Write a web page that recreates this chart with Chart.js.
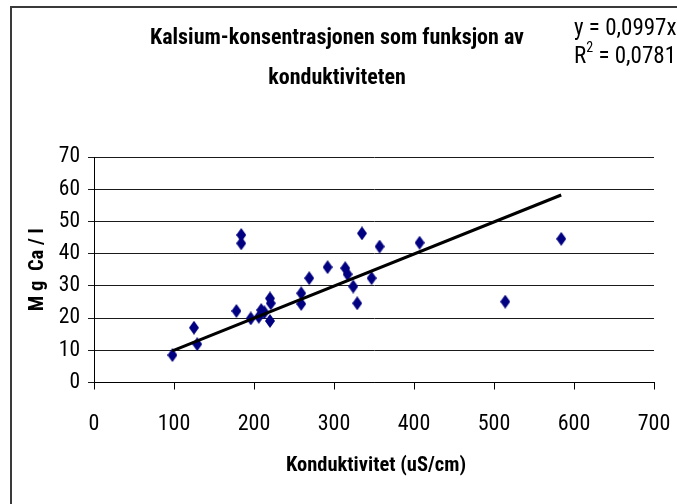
<!DOCTYPE html>
<html>
<head>
<meta charset="utf-8">
<script src="https://cdn.jsdelivr.net/npm/chart.js@4/dist/chart.umd.min.js"></script>
<style>
  html, body { margin: 0; padding: 0; background: #fff; overflow: hidden; }
  #wrap { position: relative; width: 677px; height: 504px; overflow: hidden; }
  #frame { position: absolute; left: 10px; top: 6px; width: 720px; height: 540px; border: 2px solid #3a3a3a; }
  #chart { position: absolute; left: 0; top: 0; }
</style>
</head>
<body>
<div id="wrap">
  <div id="frame"></div>
  <canvas id="chart" width="677" height="504"></canvas>
</div>
<script>
const kondX = [98, 125, 129, 178, 184, 184, 196, 206, 209, 213, 220, 221, 220, 259, 259, 269, 292, 314, 317, 324, 329, 335, 347, 357, 407, 514, 584];
const caY = [8.5, 17.0, 11.9, 22.2, 45.8, 43.2, 19.9, 20.4, 22.5, 21.8, 26.1, 24.6, 19.1, 27.7, 24.4, 32.4, 35.8, 35.5, 33.6, 29.8, 24.6, 46.3, 32.4, 42.2, 43.4, 25.1, 44.6];
const trendX = [98, 584];
const trendY = [9.8, 58.2];
const xTicks = [0, 100, 200, 300, 400, 500, 600, 700];
const yTicks = [0, 10, 20, 30, 40, 50, 60, 70];
const titleLines = ["Kalsium-konsentrasjonen som funksjon av", "konduktiviteten"];
const xTitle = "Konduktivitet (uS/cm)";
const yTitle = "M g  Ca / l";
const eqLine = "y = 0,0997x";
const r2Value = " = 0,0781";

const FONT = "'Roboto Condensed', 'Liberation Sans Narrow', 'Arial Narrow', sans-serif";

// diamond marker, a bit taller than wide like the original
function diamond() {
  const c = document.createElement("canvas");
  c.width = 10; c.height = 14;
  const g = c.getContext("2d");
  g.fillStyle = "#000080";
  g.beginPath();
  g.moveTo(5, 0); g.lineTo(10, 7); g.lineTo(5, 14); g.lineTo(0, 7);
  g.closePath();
  g.fill();
  return c;
}

const textPlugin = {
  id: "texts",
  afterDraw(chart) {
    const ctx = chart.ctx;
    ctx.save();
    ctx.fillStyle = "#000";
    ctx.textBaseline = "middle";
    ctx.textAlign = "center";
    ctx.font = "bold 22px " + FONT;
    ctx.fillText(titleLines[0], 337, 38);
    ctx.fillText(titleLines[1], 337, 78);

    ctx.font = "bold 20.5px " + FONT;
    const a = chart.chartArea;
    ctx.fillText(xTitle, (a.left + a.right) / 2 + 2, 466);
    ctx.translate(38, (a.top + a.bottom) / 2);
    ctx.rotate(-Math.PI / 2);
    ctx.fillText(yTitle, 0, 0);
    ctx.setTransform(1, 0, 0, 1, 0, 0);

    ctx.textAlign = "left";
    ctx.textBaseline = "alphabetic";
    ctx.font = "23px " + FONT;
    ctx.fillText(eqLine, 574, 35);
    ctx.fillText("R", 574, 63);
    let w = ctx.measureText("R").width;
    ctx.font = "14px " + FONT;
    ctx.fillText("2", 574 + w, 52);
    w += ctx.measureText("2").width;
    ctx.font = "23px " + FONT;
    ctx.fillText(r2Value, 574 + w, 63);
    ctx.restore();
  }
};

const ctx = document.getElementById("chart").getContext("2d");
new Chart(ctx, {
  type: "scatter",
  data: {
    datasets: [
      {
        label: "trend",
        type: "line",
        data: trendX.map((x, i) => ({ x: x, y: trendY[i] })),
        borderColor: "#000",
        borderWidth: 3,
        pointRadius: 0,
        fill: false,
        order: 0
      },
      {
        label: "Ca",
        data: kondX.map((x, i) => ({ x: x, y: caY[i] })),
        pointStyle: diamond(),
        pointRadius: 7,
        order: 1
      }
    ]
  },
  options: {
    responsive: false,
    animation: false,
    devicePixelRatio: 1,
    layout: { padding: { top: 157, right: 23, left: 0, bottom: 0 } },
    plugins: { legend: { display: false }, tooltip: { enabled: false }, title: { display: false } },
    scales: {
      x: {
        type: "linear",
        min: 0, max: 700,
        afterBuildTicks: s => { s.ticks = xTicks.map(v => ({ value: v })); },
        afterFit: s => { s.height = 121.5; s.paddingLeft = 0; s.paddingRight = 0; },
        grid: { drawOnChartArea: false, drawTicks: true, tickLength: 7, color: "#000" },
        border: { color: "#000", width: 1 },
        ticks: { color: "#000", font: { family: FONT, size: 22 }, padding: 22, maxRotation: 0 }
      },
      y: {
        min: 0, max: 70,
        afterBuildTicks: s => { s.ticks = yTicks.map(v => ({ value: v })); },
        afterFit: s => { s.width = 94; s.paddingTop = 0; s.paddingBottom = 0; },
        grid: { color: "#1a1a1a", tickLength: 6 },
        border: { color: "#000", width: 1 },
        ticks: { color: "#000", font: { family: FONT, size: 21.5 }, padding: 8 }
      }
    }
  },
  plugins: [textPlugin]
});
</script>
</body>
</html>
